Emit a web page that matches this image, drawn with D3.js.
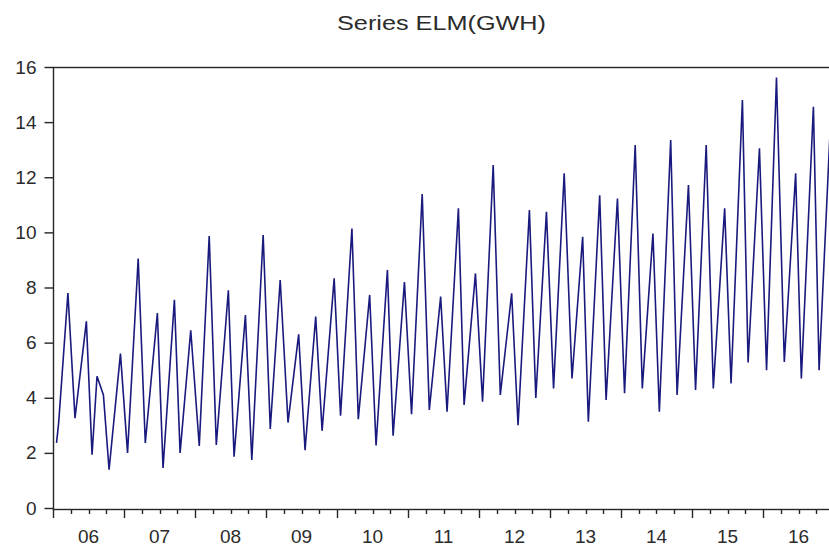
<!DOCTYPE html>
<html>
<head>
<meta charset="utf-8">
<script src="https://cdn.jsdelivr.net/npm/d3@7"></script>
<style>
  html, body { margin: 0; padding: 0; background: #fff; }
  svg { display: block; font-family: "Liberation Sans", Arial, sans-serif; }
</style>
</head>
<body>
<svg id="chart" width="829" height="550"></svg>
<script>
// ---- data (turning points of the series) ----
const title = "Series ELM(GWH)";
const times = [
  2006.05, 2006.08, 2006.21, 2006.31, 2006.47, 2006.55, 2006.62, 2006.71, 2006.79, 2006.95,
  2007.05, 2007.20, 2007.30, 2007.47, 2007.55, 2007.71, 2007.79, 2007.94,
  2008.06, 2008.20, 2008.30, 2008.47, 2008.55, 2008.71, 2008.80, 2008.96,
  2009.06, 2009.20, 2009.31, 2009.46, 2009.55, 2009.70, 2009.79, 2009.96,
  2010.05, 2010.21, 2010.30, 2010.46, 2010.55, 2010.71, 2010.79, 2010.95,
  2011.05, 2011.20, 2011.30, 2011.46, 2011.55, 2011.71, 2011.79, 2011.95,
  2012.05, 2012.20, 2012.30, 2012.46, 2012.55, 2012.71, 2012.80, 2012.95,
  2013.05, 2013.20, 2013.31, 2013.46, 2013.54, 2013.70, 2013.79, 2013.95,
  2014.05, 2014.20, 2014.30, 2014.45, 2014.54, 2014.70, 2014.79, 2014.95,
  2015.05, 2015.20, 2015.30, 2015.46, 2015.55, 2015.71, 2015.79, 2015.95,
  2016.05, 2016.19, 2016.30, 2016.46, 2016.54, 2016.71, 2016.79, 2016.94
];
const gwh = [
  2.36, 3.10, 7.80, 3.26, 6.77, 1.93, 4.78, 4.10, 1.39, 5.60,
  2.00, 9.05, 2.36, 7.07, 1.45, 7.55, 2.00, 6.45,
  2.25, 9.87, 2.29, 7.90, 1.86, 7.00, 1.74, 9.90,
  2.87, 8.27, 3.10, 6.30, 2.10, 6.95, 2.80, 8.33,
  3.35, 10.14, 3.22, 7.73, 2.27, 8.63, 2.62, 8.20,
  3.40, 11.39, 3.56, 7.67, 3.49, 10.87, 3.74, 8.51,
  3.86, 12.44, 4.10, 7.79, 3.00, 10.81, 3.99, 10.75,
  4.34, 12.14, 4.70, 9.84, 3.13, 11.35, 3.92, 11.23,
  4.16, 13.17, 4.34, 9.96, 3.49, 13.35, 4.10, 11.72,
  4.28, 13.17, 4.34, 10.87, 4.52, 14.80, 5.28, 13.05,
  5.00, 15.62, 5.30, 12.14, 4.70, 14.56, 5.00, 13.40
];
const yTicks = [0, 2, 4, 6, 8, 10, 12, 14, 16];
const yearTicks = [2006, 2007, 2008, 2009, 2010, 2011, 2012, 2013, 2014, 2015, 2016, 2017];
const yearLabels = ["06", "07", "08", "09", "10", "11", "12", "13", "14", "15", "16"];

// ---- layout ----
const svg = d3.select("#chart");
const mLeft = 53, mTop = 67, mBottom = 508, mRight = 834;
const x = d3.scaleLinear().domain([2006, 2017]).range([mLeft, mRight]);
const y = d3.scaleLinear().domain([0, 16]).range([mBottom, mTop]);
const ink = "#262626";

// title
svg.append("text")
  .attr("x", 441.5).attr("y", 30)
  .attr("text-anchor", "middle")
  .attr("font-size", 20)
  .attr("fill", "#2b2b2b")
  .attr("textLength", 209).attr("lengthAdjust", "spacingAndGlyphs")
  .text(title);

// clip
svg.append("clipPath").attr("id", "plot")
  .append("rect").attr("x", mLeft).attr("y", mTop).attr("width", mRight - mLeft).attr("height", mBottom - mTop + 1);

// series line
const data = times.map((t, i) => ({ t, v: gwh[i] }));
svg.append("path")
  .datum(data)
  .attr("clip-path", "url(#plot)")
  .attr("fill", "none")
  .attr("stroke", "#1a1a7e")
  .attr("stroke-width", 1.6)
  .attr("stroke-linejoin", "miter")
  .attr("d", d3.line().x(d => x(d.t)).y(d => y(d.v)));

// frame
svg.append("rect")
  .attr("x", mLeft + 0.5).attr("y", mTop + 0.5)
  .attr("width", mRight - mLeft).attr("height", mBottom - mTop + 1)
  .attr("fill", "none").attr("stroke", ink).attr("stroke-width", 1.4);

// y axis
const yAxis = d3.axisLeft(y).tickValues(yTicks).tickSize(9).tickPadding(8).tickFormat(d3.format("d"));
const gy = svg.append("g").attr("transform", `translate(${mLeft + 0.5},0)`).call(yAxis);
gy.select(".domain").remove();
gy.selectAll(".tick line").attr("stroke", ink).attr("stroke-width", 1.4);
gy.selectAll(".tick text").attr("font-size", 19).attr("fill", "#2b2b2b")
  .attr("font-family", "'Liberation Sans', Arial, sans-serif");

// x axis: quarterly minor ticks, yearly major ticks, year labels centred in each year
const quarters = d3.range(2006, 2017.01, 0.25);
const gx = svg.append("g").attr("transform", `translate(0,${mBottom + 1})`);
gx.selectAll("line.q").data(quarters).join("line")
  .attr("x1", d => Math.round(x(d)) + 0.5).attr("x2", d => Math.round(x(d)) + 0.5)
  .attr("y1", 0)
  .attr("y2", d => yearTicks.includes(Math.round(d * 100) / 100) ? 9 : 5)
  .attr("stroke", ink).attr("stroke-width", 1.4);
gx.selectAll("text").data(yearLabels).join("text")
  .attr("x", (d, i) => x(yearTicks[i] + 0.5))
  .attr("y", 34)
  .attr("text-anchor", "middle")
  .attr("font-size", 19)
  .attr("fill", "#2b2b2b")
  .text(d => d);
</script>
</body>
</html>
